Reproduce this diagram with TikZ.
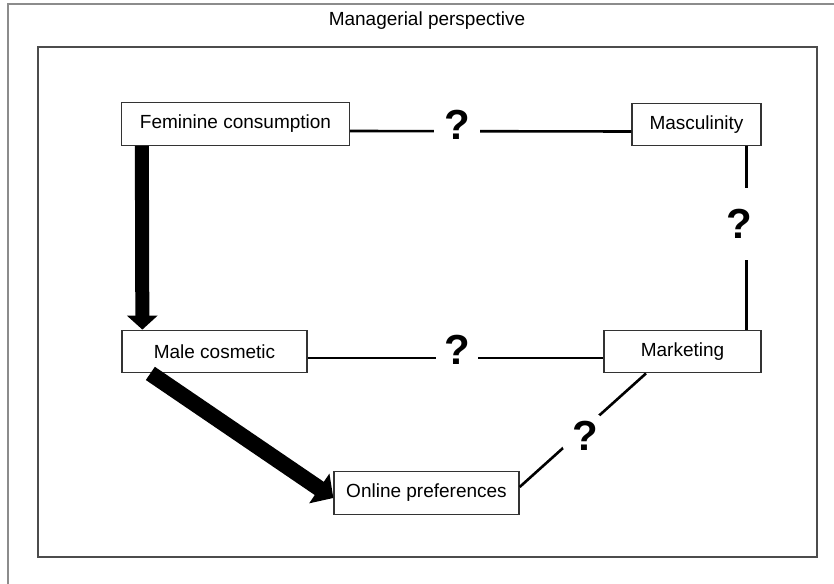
\documentclass[tikz,border=0pt]{standalone}
\usepackage{fontspec}
\setmainfont{Liberation Sans}
\usetikzlibrary{arrows.meta}
\begin{document}
\begin{tikzpicture}[x=1pt,y=-1pt,
  box/.style={draw=black!80,line width=1.3pt,fill=white,inner sep=0pt,
    minimum height=42.5pt,font=\fontsize{19}{22}\selectfont},
  link/.style={line width=2.6pt,black},
  qmark/.style={fill=white,inner sep=0pt,font=\fontsize{42}{44}\bfseries\selectfont},
  bigarrow/.style={line width=14pt,-{Triangle[width=30pt,length=14pt]}}]
\useasboundingbox (0,0) rectangle (834,583);
\begin{scope}
\clip (0,0) rectangle (834,583);
% outer frame
\draw[black!45,line width=2pt] (840,4) -- (8,4) -- (8,600);
\end{scope}
% inner frame
\draw[black!70,line width=1.8pt] (38,47) rectangle (817,557);
\node[font=\fontsize{19}{22}\selectfont] (title) at (427,21) {Managerial perspective};

% concepts
\node[box,minimum width=228pt] (fem)  at (235.5,124)   {Feminine consumption};
\node[box,minimum width=129pt] (masc) at (696.5,124.5) {Masculinity};
\node[box,minimum width=185pt] (male) at (214.5,351.5) {Male cosmetic};
\node[box,minimum width=157pt] (mkt)  at (682.5,351.5) {Marketing};
\node[box,minimum width=185pt] (onl)  at (426.5,493)   {Online preferences};

% uncertain relations
\draw[link] ([yshift=-7pt]fem.east) -- ([yshift=-7pt]masc.west);
\draw[link] ([xshift=-15pt]masc.south east) -- ([xshift=-15pt]mkt.north east);
\draw[link] ([yshift=-6.5pt]male.east) -- ([yshift=-6.5pt]mkt.west);
\draw[link] ([xshift=-36.5pt]mkt.south) -- ([yshift=6pt]onl.east);

\node[qmark,minimum width=46pt,minimum height=30pt] (q1) at (457,125) {?};
\node[qmark,minimum width=30pt,minimum height=72pt] (q2) at (739,224) {?};
\node[qmark,minimum width=42pt,minimum height=30pt] (q3) at (457,350) {?};
\node[qmark,minimum width=40pt,minimum height=40pt,fill=none] (q4) at (585,436) {?};
\fill[white] (q4.center) circle (25pt);
\node[qmark,fill=none] at (q4.center) {?};

% established relations
\draw[bigarrow] ([xshift=21pt]fem.south west) -- ([xshift=21pt]male.north west);
\draw[bigarrow,line width=16pt,-{Triangle[width=35pt,length=17pt]}]
  ([xshift=29pt]male.south west) -- ([yshift=-5pt]onl.west);
\end{tikzpicture}
\end{document}
